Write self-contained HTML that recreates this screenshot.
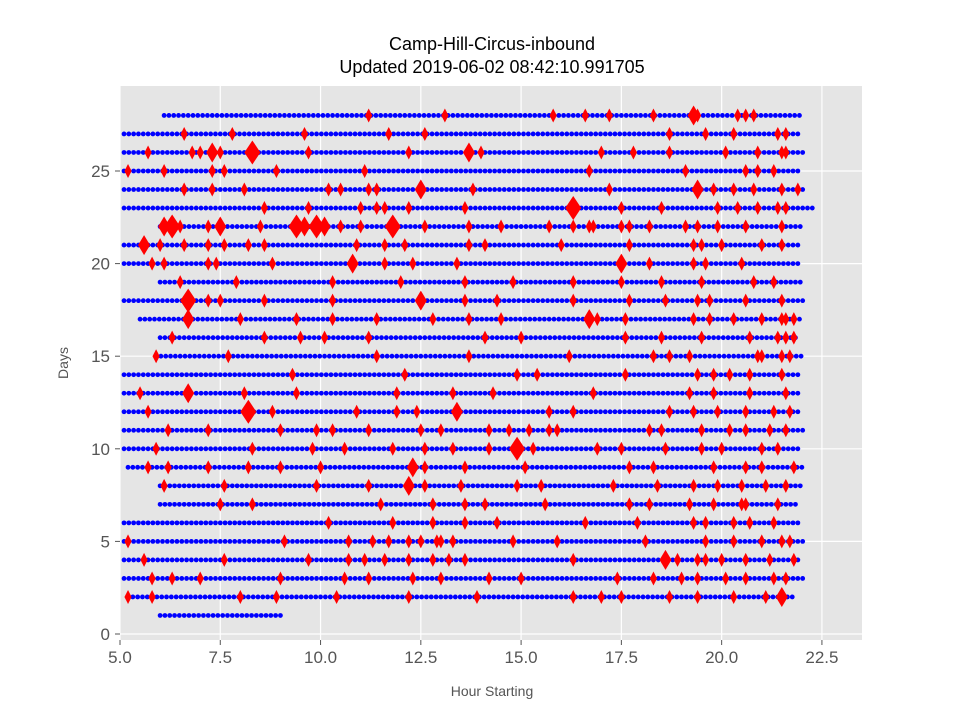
<!DOCTYPE html>
<html><head><meta charset="utf-8"><style>
body{margin:0;background:#fff;}
svg{display:block;font-family:"Liberation Sans",sans-serif;}
</style></head><body>
<svg id="chart" width="960" height="720">
<text x="492" y="50" text-anchor="middle" font-size="18" fill="#000">Camp-Hill-Circus-inbound</text>
<text x="492" y="73" text-anchor="middle" font-size="18" fill="#000">Updated 2019-06-02 08:42:10.991705</text>
<rect x="120" y="86" width="742" height="554" fill="#e5e5e5"/>
<g id="grid"></g><g id="blue"></g><g id="red"></g><g id="ticks"></g>
<text x="492" y="696" text-anchor="middle" font-size="14" fill="#555">Hour Starting</text>
<text x="68" y="363" text-anchor="middle" font-size="14" fill="#555" transform="rotate(-90 68 363)">Days</text>
</svg>
<script>
const xTicks=[5,7.5,10,12.5,15,17.5,20,22.5];
const yTicks=[0,5,10,15,20,25];
const rowDays=[1,2,3,4,5,6,7,8,9,10,11,12,13,14,15,16,17,18,19,20,21,22,23,24,25,26,27,28];
const rowStart=[6.0,5.2,5.1,5.1,5.1,5.1,6.0,6.0,5.2,5.1,5.1,5.1,5.1,5.1,5.9,6.0,5.5,5.1,6.0,5.1,5.1,6.0,5.1,5.1,5.1,5.1,5.1,6.1];
const rowEnd=[9.0,21.8,22.1,22.0,22.1,22.0,21.9,22.0,22.1,22.0,22.1,22.0,22.0,22.0,22.0,21.9,22.0,22.1,22.0,22.0,22.0,22.0,22.3,22.1,22.0,22.1,22.0,22.0];
const redRows={
28:[[11.2,1],[13.1,1],[15.8,1],[16.6,1],[17.2,1],[18.3,1],[19.3,2],[19.4,1],[20.4,1],[20.6,1],[20.8,1]],
27:[[6.6,1],[7.8,1],[9.6,1],[11.7,1],[12.6,1],[18.7,1],[19.6,1],[20.3,1],[21.4,1],[21.6,1]],
26:[[5.7,1],[6.8,1],[7.0,1],[7.3,2],[7.5,1],[8.3,3],[9.7,1],[12.2,1],[13.7,2],[14.0,1],[17.0,1],[17.8,1],[18.7,1],[20.1,1],[20.9,1],[21.5,1],[21.6,1]],
25:[[5.2,1],[6.1,1],[7.3,1],[7.6,1],[8.9,1],[11.1,1],[16.7,1],[19.1,1],[20.6,1],[20.9,1],[21.3,1]],
24:[[6.6,1],[7.3,1],[8.1,1],[10.2,1],[10.5,1],[11.2,1],[11.4,1],[12.5,2],[13.8,1],[17.2,1],[19.4,2],[19.8,1],[20.3,1],[20.8,1],[21.5,1],[21.9,1]],
23:[[8.6,1],[9.7,1],[11.0,1],[11.4,1],[11.6,1],[12.2,1],[13.6,1],[16.3,3],[17.5,1],[18.5,1],[19.9,1],[20.4,1],[20.9,1],[21.4,1],[21.6,1]],
22:[[6.1,2],[6.3,3],[6.5,1],[7.2,1],[7.5,2],[8.5,1],[9.4,3],[9.6,2],[9.9,3],[10.1,2],[10.5,1],[11.0,1],[11.8,3],[12.6,1],[13.7,1],[14.5,1],[15.7,1],[16.3,1],[16.7,1],[16.8,1],[17.5,1],[17.7,1],[18.2,1],[19.1,1],[19.4,1],[19.9,1],[20.6,1],[21.5,1]],
21:[[5.6,2],[6.0,1],[6.6,1],[7.2,1],[7.6,1],[8.2,1],[8.6,1],[10.9,1],[11.6,1],[12.1,1],[13.7,1],[14.1,1],[16.0,1],[17.7,1],[19.3,1],[19.5,1],[20.0,1],[21.0,1],[21.5,1]],
20:[[5.8,1],[6.1,1],[7.2,1],[7.4,1],[8.8,1],[10.8,2],[11.6,1],[12.3,1],[13.4,1],[17.5,2],[18.2,1],[19.3,1],[19.6,1],[20.5,1]],
19:[[6.5,1],[7.9,1],[10.3,1],[12.0,1],[13.6,1],[14.8,1],[16.3,1],[17.5,1],[18.5,1],[19.5,1],[20.8,1],[21.3,1]],
18:[[6.7,3],[7.2,1],[7.5,1],[8.6,1],[10.3,1],[12.5,2],[13.6,1],[14.4,1],[16.3,1],[17.7,1],[18.6,1],[19.4,1],[19.7,1],[20.6,1],[21.5,1]],
17:[[6.7,2],[8.0,1],[9.4,1],[10.3,1],[11.4,1],[12.8,1],[13.7,1],[14.5,1],[16.7,2],[16.9,1],[17.6,1],[19.3,1],[19.7,1],[20.3,1],[21.0,1],[21.5,1],[21.6,1],[21.8,1]],
16:[[6.3,1],[8.6,1],[9.5,1],[10.1,1],[11.2,1],[14.1,1],[15.0,1],[17.6,1],[18.5,1],[19.5,1],[20.7,1],[21.4,1],[21.6,1],[21.8,1]],
15:[[5.9,1],[7.7,1],[11.4,1],[13.7,1],[16.2,1],[18.3,1],[18.7,1],[19.2,1],[20.9,1],[21.0,1],[21.5,1],[21.7,1]],
14:[[9.3,1],[12.1,1],[14.9,1],[15.4,1],[17.6,1],[19.4,1],[19.8,1],[20.2,1],[20.7,1],[21.5,1]],
13:[[5.5,1],[6.7,2],[8.1,1],[9.4,1],[11.9,1],[13.3,1],[14.3,1],[16.8,1],[19.2,1],[19.8,1],[20.7,1],[21.6,1]],
12:[[5.7,1],[8.2,3],[8.8,1],[10.9,1],[11.9,1],[12.4,1],[13.4,2],[15.7,1],[16.3,1],[18.7,1],[19.3,1],[19.9,1],[20.6,1],[21.3,1],[21.7,1]],
11:[[6.2,1],[7.2,1],[9.0,1],[9.9,1],[10.3,1],[11.2,1],[12.5,1],[13.0,1],[14.2,1],[14.7,1],[15.2,1],[15.7,1],[15.9,1],[18.2,1],[18.5,1],[19.5,1],[20.2,1],[20.6,1],[21.2,1],[21.6,1]],
10:[[5.9,1],[8.3,1],[9.8,1],[10.6,1],[11.8,1],[12.6,1],[13.3,1],[14.2,1],[14.9,3],[15.3,1],[16.9,1],[17.5,1],[18.6,1],[19.5,1],[20.0,1],[21.0,1],[21.4,1]],
9:[[5.7,1],[6.2,1],[7.2,1],[8.2,1],[9.0,1],[10.0,1],[12.3,2],[12.6,1],[13.6,1],[15.1,1],[17.7,1],[18.3,1],[19.8,1],[20.6,1],[21.0,1],[21.8,1]],
8:[[6.1,1],[7.6,1],[9.9,1],[11.2,1],[12.2,2],[12.6,1],[13.5,1],[14.9,1],[15.5,1],[17.3,1],[18.4,1],[19.3,1],[19.9,1],[20.5,1],[21.1,1],[21.6,1]],
7:[[7.5,1],[8.3,1],[11.5,1],[12.8,1],[13.6,1],[14.1,1],[15.6,1],[17.7,1],[18.2,1],[19.2,1],[19.8,1],[20.5,1],[20.6,1],[21.4,1]],
6:[[10.2,1],[11.8,1],[12.8,1],[13.6,1],[14.4,1],[16.6,1],[17.9,1],[19.3,1],[19.6,1],[20.3,1],[20.7,1],[21.3,1]],
5:[[5.2,1],[9.1,1],[10.7,1],[11.3,1],[11.7,1],[12.2,1],[12.5,1],[12.9,1],[13.0,1],[13.3,1],[14.8,1],[15.9,1],[18.1,1],[19.6,1],[20.3,1],[21.0,1],[21.5,1],[21.7,1]],
4:[[5.6,1],[7.6,1],[9.7,1],[10.7,1],[11.1,1],[11.6,1],[12.2,1],[12.8,1],[13.2,1],[13.6,1],[16.3,1],[18.6,2],[18.9,1],[19.4,1],[19.6,1],[20.0,1],[20.6,1],[21.2,1],[21.8,1]],
3:[[5.8,1],[6.3,1],[7.0,1],[9.0,1],[10.6,1],[11.2,1],[12.3,1],[13.0,1],[14.2,1],[15.0,1],[17.4,1],[18.3,1],[19.0,1],[19.4,1],[20.1,1],[20.6,1],[21.3,1],[21.6,1]],
2:[[5.2,1],[5.8,1],[8.0,1],[8.9,1],[10.4,1],[12.2,1],[13.9,1],[16.3,1],[17.0,1],[17.5,1],[18.7,1],[19.4,1],[20.3,1],[21.1,1],[21.5,2]]
};
const NS="http://www.w3.org/2000/svg";
const X=v=>120+(v-5)*40.11;
const Y=v=>634-v*18.52;
function mk(tag,attrs,parent){const e=document.createElementNS(NS,tag);for(const k in attrs)e.setAttribute(k,attrs[k]);parent.appendChild(e);return e;}
const grid=document.getElementById('grid'),ticks=document.getElementById('ticks');
xTicks.forEach(t=>{
 const l=mk('line',{x1:X(t),x2:X(t),y1:86,y2:640,stroke:'#fff','stroke-width':1.2},grid);
 
 
 mk('line',{x1:X(t),x2:X(t),y1:640,y2:645,stroke:'#555'},ticks);
 const tx=mk('text',{x:X(t),y:663,'text-anchor':'middle','font-size':17,fill:'#555'},ticks);
 tx.textContent=t.toFixed(1);
 
 
});
yTicks.forEach(t=>{
 const l=mk('line',{x1:120,x2:862,y1:Y(t),y2:Y(t),stroke:'#fff','stroke-width':1.2},grid);
 
 
 mk('line',{x1:115,x2:120,y1:Y(t),y2:Y(t),stroke:'#555'},ticks);
 const tx=mk('text',{x:110,y:Y(t)+6,'text-anchor':'end','font-size':17,fill:'#555'},ticks);
 tx.textContent=t;
 
 
});
const blue=document.getElementById('blue');
rowDays.forEach((d,i)=>{
 for(let h=rowStart[i];h<=rowEnd[i]+1e-9;h+=0.12){
  const c=mk('circle',{cx:X(h),cy:Y(d),r:2.4,fill:'#0000ff'},blue);
  
  
 }
});
const red=document.getElementById('red');
const W=[0,3.6,6,8],H=[0,7,10,12];
Object.keys(redRows).forEach(d=>{
 redRows[d].forEach(([h,s])=>{
  const cx=X(h),cy=Y(+d),w=W[s],hh=H[s];
  const p=mk('polygon',{points:`${cx},${cy-hh} ${cx+w},${cy} ${cx},${cy+hh} ${cx-w},${cy}`,fill:'#ff0000'},red);
  
  
 });
});
</script>
</body></html>
